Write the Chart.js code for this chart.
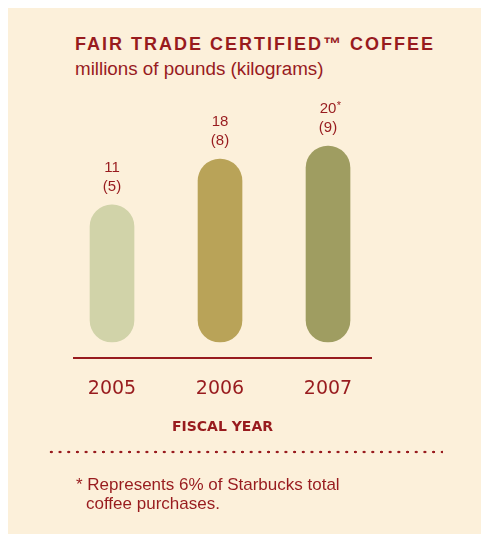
<!DOCTYPE html>
<html>
<head>
<meta charset="utf-8">
<script src="https://cdn.jsdelivr.net/npm/chart.js@4"></script>
<style>
  html, body { margin: 0; padding: 0; background: #ffffff; }
  body { width: 481px; height: 534px; position: relative; overflow: hidden; }
  #panel { position: absolute; left: 8px; top: 8px; right: 0; bottom: 0; background: #fcf0da; }
  #chart { position: absolute; left: 0; top: 0; }
  .txt { position: absolute; color: #981b1e; white-space: nowrap; font-family: "Liberation Sans", Arial, sans-serif; }
  #title { left: 75px; top: 35px; font-size: 18px; line-height: 18px; font-weight: bold; letter-spacing: 2px; }
  #subtitle { left: 75px; top: 60px; font-size: 18.8px; line-height: 18px; }
  #dots { position: absolute; left: 47px; top: 450px; width: 396px; height: 4px;
          background: radial-gradient(circle, #981b1e 1.1px, transparent 1.6px) 0 0 / 8.7px 4px repeat-x; }
  #note1 { left: 76px; top: 476px; font-size: 17px; line-height: 17px; }
  #note2 { left: 86px; top: 495px; font-size: 17px; line-height: 17px; }
</style>
</head>
<body>
<div id="panel"></div>
<div class="txt" id="title">FAIR TRADE CERTIFIED™ COFFEE</div>
<div class="txt" id="subtitle">millions of pounds (kilograms)</div>
<canvas id="chart" width="481" height="534"></canvas>
<div id="dots"></div>
<div class="txt" id="note1">* Represents 6% of Starbucks total</div>
<div class="txt" id="note2">coffee purchases.</div>
<script>
// fiscal years and Fair Trade coffee volumes
var years = [2005, 2006, 2007];
var pounds = [11, 18, 20];      // millions of pounds
var kilos = [5, 8, 9];          // millions of kilograms
var marks = ['', '', '*'];
var barColors = ['#d1d3a9', '#b9a358', '#9f9d61'];

var red = '#981b1e';

// two-line value labels above each bar
var valueLabels = {
    id: 'valueLabels',
    afterDatasetsDraw: function (chart) {
        var ctx = chart.ctx;
        var meta = chart.getDatasetMeta(0);
        ctx.save();
        ctx.fillStyle = red;
        ctx.textBaseline = 'middle';
        meta.data.forEach(function (bar, i) {
            ctx.font = '15px "Liberation Sans", Arial, sans-serif';
            ctx.textAlign = 'center';
            var top = String(pounds[i]);
            ctx.fillText(top, bar.x, bar.y - 37);
            ctx.fillText('(' + kilos[i] + ')', bar.x, bar.y - 18);
            if (marks[i]) {
                var w = ctx.measureText(top).width;
                ctx.font = '11px "Liberation Sans", Arial, sans-serif';
                ctx.textAlign = 'left';
                ctx.fillText(marks[i], bar.x + w / 2 + 0.5, bar.y - 40);
            }
        });
        ctx.restore();
    }
};

new Chart(document.getElementById('chart'), {
    type: 'bar',
    data: {
        datasets: [
            {
                data: years.map(function (y, i) { return { x: y, y: pounds[i] }; }),
                backgroundColor: barColors,
                base: -10,
                barThickness: 44,
                borderRadius: 22,
                borderSkipped: false
            }
        ]
    },
    options: {
        responsive: false,
        devicePixelRatio: 1,
        animation: false,
        events: [],
        layout: {
            padding: { left: 74, right: 110, top: 100, bottom: 98.6 }
        },
        plugins: {
            legend: { display: false },
            tooltip: { enabled: false }
        },
        scales: {
            x: {
                type: 'linear',
                offset: false,
                min: 2004.648,
                max: 2007.398,
                afterBuildTicks: function (scale) {
                    scale.ticks = years.map(function (y) { return { value: y }; });
                },
                afterFit: function (scale) {
                    scale.height = 77.4;
                },
                grid: { display: false, drawTicks: false, offset: false },
                border: { display: true, color: red, width: 2 },
                ticks: {
                    color: red,
                    padding: 20,
                    font: { family: '"DejaVu Sans", sans-serif', size: 19 },
                    callback: function (v) { return String(v); }
                },
                title: {
                    display: true,
                    text: 'FISCAL YEAR',
                    color: red,
                    padding: 0,
                    font: { family: '"DejaVu Sans", sans-serif', size: 14, weight: 'bold' }
                }
            },
            y: {
                display: false,
                min: -12.45,
                max: 27.06
            }
        }
    },
    plugins: [valueLabels]
});
</script>
</body>
</html>
